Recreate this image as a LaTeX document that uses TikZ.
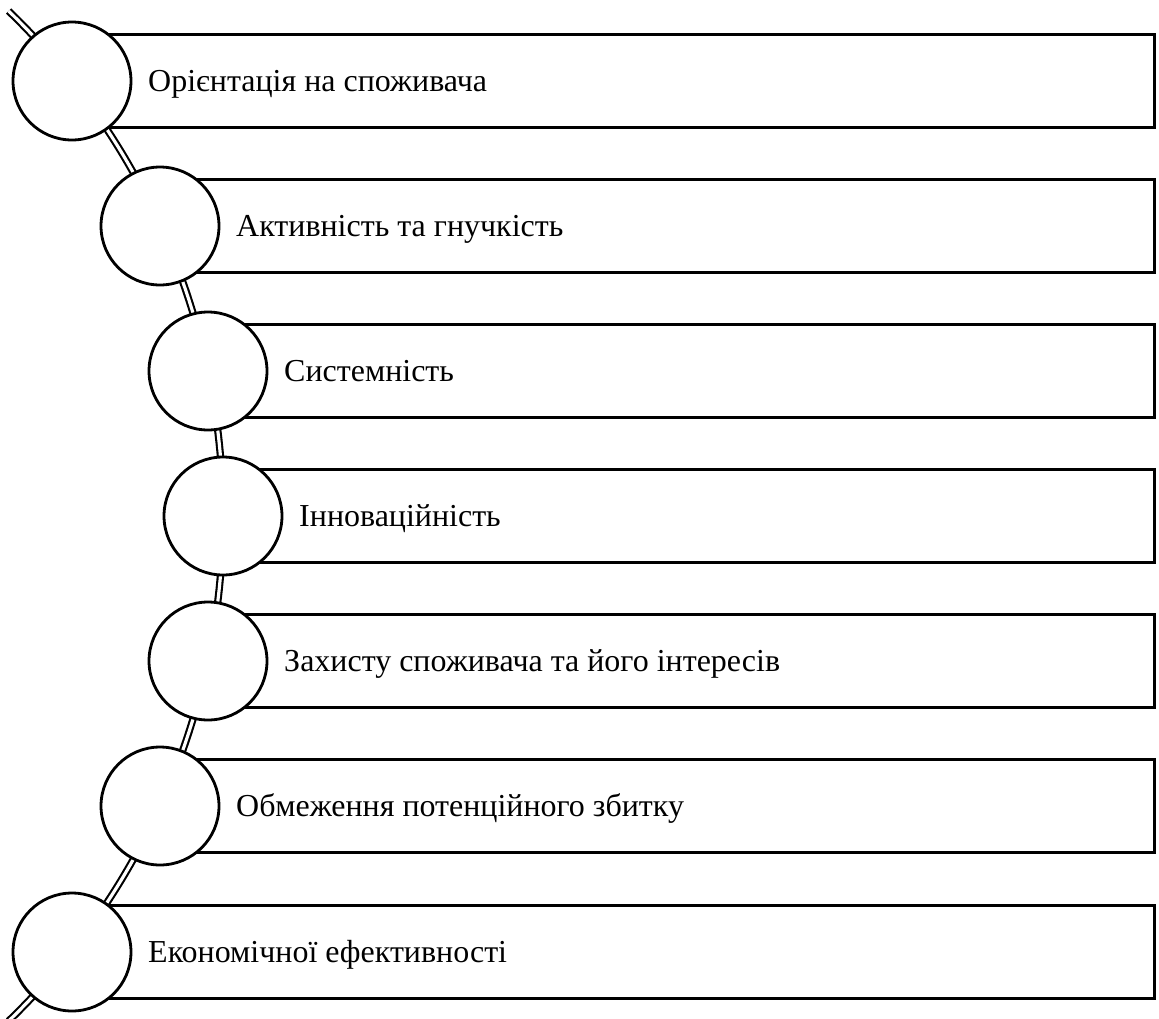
\documentclass[tikz,border=0pt]{standalone}
\usepackage{fontspec}
\setmainfont{Liberation Serif}
\usetikzlibrary{positioning}

\begin{document}
\begin{tikzpicture}[x=0.02cm, y=-0.02cm,
  disc/.style={circle, draw=black, fill=white, line width=1.6pt, minimum size=2.36cm, inner sep=0pt},
  bar/.style={rectangle, draw=black, line width=1.9pt, minimum height=1.86cm, anchor=west, inner sep=0pt},
  lbl/.style={font=\fontsize{18.2}{22}\selectfont, text=black, inner sep=0pt, text height=11.4pt, text depth=0pt, anchor=west}]
\useasboundingbox (0,0) rectangle (1159,1018);
\draw[double=white, line width=1.2pt, double distance=1.8pt] (-479,516) ++(-46:702) arc[start angle=-46, end angle=46, radius=702];
\foreach \i/\cx/\cy/\txt in {1/72/81/{Орієнтація на споживача},
  2/160/226/{Активність та гнучкість},
  3/208/371/{Системність},
  4/223/516/{Інноваційність},
  5/208/661/{Захисту споживача та його інтересів},
  6/160/806/{Обмеження потенційного збитку},
  7/72/952/{Економічної ефективності}}
{
  \node[bar, minimum width={(1153-\cx)*0.02cm}] (b\i) at (\cx,\cy) {};
  \node[disc] (c\i) at (\cx,\cy) {};
  \node[lbl, right=0.31cm of c\i] (t\i) {\txt};
}
\end{tikzpicture}
\end{document}
